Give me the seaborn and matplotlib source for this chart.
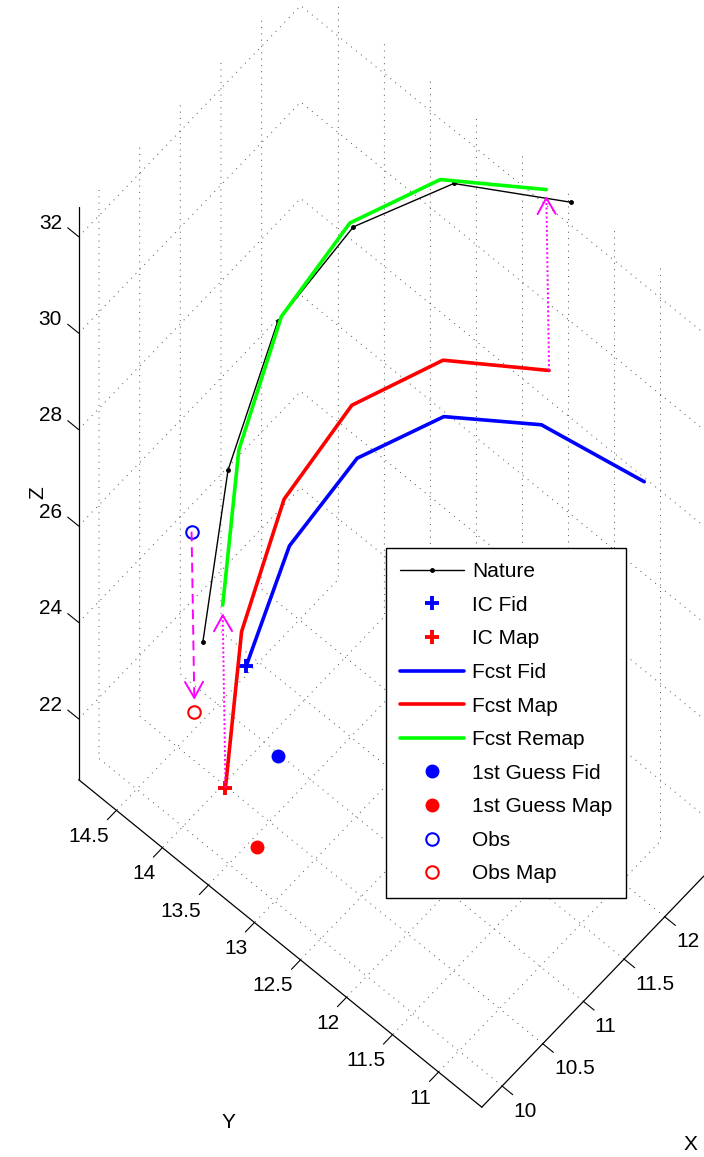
import numpy as np
import matplotlib
matplotlib.use("Agg")
import matplotlib.pyplot as plt
import seaborn as sns
from matplotlib.patches import FancyArrowPatch
from mpl_toolkits.mplot3d import proj3d

# ---- data: six time steps of each trajectory (x, y, z) ----
nature_x = [10.10, 10.50, 11.00, 11.60, 12.10, 12.46]
nature_y = [13.87, 13.95, 13.85, 13.56, 12.91, 11.955]
nature_z = [24.59, 27.33, 29.70, 31.05, 32.08, 32.54]

fcst_fid_x = [10.45, 10.95, 11.50, 12.00, 12.35, 12.45]
fcst_fid_y = [13.71, 13.68, 13.43, 12.93, 12.18, 11.15]
fcst_fid_z = [23.72, 25.39, 26.63, 27.39, 27.77, 28.01]

fcst_map_x = [10.05, 10.35, 10.85, 11.40, 11.90, 12.40]
fcst_map_y = [13.58, 13.67, 13.65, 13.40, 12.85, 12.14]
fcst_map_z = [22.11, 24.68, 26.58, 27.95, 28.86, 28.87]

fcst_remap_x = [10.05, 10.35, 10.85, 11.40, 11.90, 12.40]
fcst_remap_y = [13.61, 13.70, 13.68, 13.42, 12.88, 12.17]
fcst_remap_z = [25.85, 28.40, 30.32, 31.70, 32.56, 32.575]

guess_fid = [10.75, 13.63, 21.47]
guess_map = [10.15, 13.33, 21.09]
obs = [9.95, 13.86, 27.16]
obs_map = [9.95, 13.83, 23.46]

# displacement arrows: start -> tip
remap_arrow_start = [[10.05, 13.58, 22.11], [12.40, 12.14, 28.87]]
remap_arrow_tip = [[10.05, 13.61, 25.68], [12.40, 12.17, 32.44]]
obs_arrow_start = [9.95, 13.86, 27.16]
obs_arrow_tip = [9.95, 13.83, 23.72]

x_lim = (9.75, 12.48)
y_lim = (10.53, 14.91)
z_lim = (20.74, 32.61)
x_ticks = [10, 10.5, 11, 11.5, 12]
x_tick_labels = ["10", "10.5", "11", "11.5", "12"]
y_ticks = [11, 11.5, 12, 12.5, 13, 13.5, 14, 14.5]
y_tick_labels = ["11", "11.5", "12", "12.5", "13", "13.5", "14", "14.5"]
z_ticks = [22, 24, 26, 28, 30, 32]
z_tick_labels = ["22", "24", "26", "28", "30", "32"]

# ---- style ----
FS = 15
sns.set_theme(style="white")
plt.rcParams.update({
    "font.family": ["Liberation Sans", "DejaVu Sans"],
    "font.size": FS,
    "xtick.labelsize": FS,
    "ytick.labelsize": FS,
    "legend.fontsize": FS,
    "text.color": "black",
    "axes.labelcolor": "black",
    "xtick.color": "black",
    "ytick.color": "black",
    "axes.edgecolor": "black",
})

W, H = 704, 1157
fig = plt.figure(figsize=(W / 100, H / 100), dpi=100)
S = 1160
ax = fig.add_axes([0, 0, S / W, S / H], projection="3d", proj_type="ortho")
ax.computed_zorder = False
ax.set_xlim(x_lim)
ax.set_ylim(y_lim)
ax.set_zlim(z_lim)
ax.view_init(elev=66.88, azim=-138.54)
spans = [x_lim[1] - x_lim[0], y_lim[1] - y_lim[0], z_lim[1] - z_lim[0]]
ax.set_box_aspect(spans)
ax.grid(True)

ax.set_xticks(x_ticks, x_tick_labels, ha="left", va="center")
ax.set_yticks(y_ticks, y_tick_labels, ha="right", va="center")
ax.set_zticks(z_ticks, z_tick_labels, ha="right", va="center")

tick_factors = {"x": (0.33, 0.0), "y": (0.51, 0.0), "z": (0.0, 0.34)}
for name, axis in (("x", ax.xaxis), ("y", ax.yaxis), ("z", ax.zaxis)):
    axis.set_pane_color((1, 1, 1, 0))
    axis.pane.set_edgecolor((1, 1, 1, 0))
    axis.line.set_color("black")
    axis.line.set_linewidth(0.9)
    info = axis._axinfo
    info["grid"].update(color=(0.3, 0.3, 0.3), linewidth=0.7,
                        linestyle=(0, (1, 5.5)))
    info["axisline"]["color"] = "black"
    info["axisline"]["linewidth"] = 0.9
    info["tick"]["inward_factor"] = tick_factors[name][0]
    info["tick"]["outward_factor"] = tick_factors[name][1]
    info["tick"]["linewidth"] = {True: 0.8, False: 0.5}

# z ticks point along +y, labels offset along y only
ax.zaxis._get_tickdir = lambda *a, **k: 1
ax.zaxis._axmask = lambda: [False, True, False]

# ---- marks ----
ax.plot(nature_x, nature_y, nature_z, color="black", lw=1.0, marker=".",
        ms=5, label="Nature")
ax.plot([fcst_fid_x[0]], [fcst_fid_y[0]], [fcst_fid_z[0]], ls="none",
        marker="+", color="blue", ms=10, mew=2.8, label="IC Fid")
ax.plot([fcst_map_x[0]], [fcst_map_y[0]], [fcst_map_z[0]], ls="none",
        marker="+", color="red", ms=10, mew=2.8, label="IC Map")
ax.plot(fcst_fid_x, fcst_fid_y, fcst_fid_z, color="blue", lw=2.6,
        label="Fcst Fid")
ax.plot(fcst_map_x, fcst_map_y, fcst_map_z, color="red", lw=2.6,
        label="Fcst Map")
ax.plot(fcst_remap_x, fcst_remap_y, fcst_remap_z, color=(0, 1, 0), lw=2.6,
        label="Fcst Remap")
ax.plot([guess_fid[0]], [guess_fid[1]], [guess_fid[2]], ls="none",
        marker="o", color="blue", ms=9, label="1st Guess Fid")
ax.plot([guess_map[0]], [guess_map[1]], [guess_map[2]], ls="none",
        marker="o", color="red", ms=9, label="1st Guess Map")
ax.plot([obs[0]], [obs[1]], [obs[2]], ls="none", marker="o", mfc="none",
        mec="blue", mew=1.5, ms=9, label="Obs")
ax.plot([obs_map[0]], [obs_map[1]], [obs_map[2]], ls="none", marker="o",
        mfc="none", mec="red", mew=1.5, ms=9, label="Obs Map")


class Arrow3D(FancyArrowPatch):
    def __init__(self, start, end, **kw):
        super().__init__((0, 0), (0, 0), **kw)
        self._verts3d = np.asarray([start, end], float).T

    def do_3d_projection(self, renderer=None):
        xs, ys, zs = proj3d.proj_transform(*self._verts3d, self.axes.M)
        self.set_positions((xs[0], ys[0]), (xs[1], ys[1]))
        return np.min(zs)


def draw_arrow(start, tip, linestyle):
    start = np.asarray(start, float)
    tip = np.asarray(tip, float)
    ax.plot(*zip(start, tip), color="magenta", lw=1.4, ls=linestyle, zorder=3)
    near_tip = start + 0.98 * (tip - start)
    head = Arrow3D(near_tip, tip, arrowstyle="->,head_length=1.15,head_width=0.65",
                   mutation_scale=10, color="magenta", lw=1.4,
                   shrinkA=0, shrinkB=0, zorder=3)
    ax.add_artist(head)


for s, t in zip(remap_arrow_start, remap_arrow_tip):
    draw_arrow(s, t, (0, (1, 1.3)))
draw_arrow(obs_arrow_start, obs_arrow_tip, (0, (5, 3)))

# ---- place the box: scale and shift the projection onto the canvas ----
corners = np.array([
    [x_lim[0], y_lim[1], z_lim[0]],
    [x_lim[0], y_lim[0], z_lim[0]],
    [x_lim[1], y_lim[0], z_lim[0]],
    [x_lim[0], y_lim[1], z_lim[1]],
])
targets = np.array([[79.3, 780.0], [481.8, 1107.0], [702.5, 877.3], [79.3, 206.0]])
targets[:, 1] = H - targets[:, 1]


def to_display(pts):
    xs, ys, _ = proj3d.proj_transform(*pts.T, ax.get_proj())
    return ax.transData.transform(np.column_stack([xs, ys]))


fig.canvas.draw()
cur = to_display(corners)
k = np.sqrt(((targets - targets.mean(0)) ** 2).sum()
            / ((cur - cur.mean(0)) ** 2).sum())
ax.set_box_aspect(spans, zoom=k)
fig.canvas.draw()
cur = to_display(corners)
shift = (targets - cur).mean(0)
pos = ax.get_position()
ax.set_position([pos.x0 + shift[0] / W, pos.y0 + shift[1] / H,
                 pos.width, pos.height])
fig.canvas.draw()

# tick label offsets (in units of the axis deltas)
dpp = 48.0 / (72.0 * (ax.bbox.width + ax.bbox.height) / fig.dpi)
for axis, s in ((ax.xaxis, 0.347), (ax.yaxis, 0.404), (ax.zaxis, 0.52)):
    axis.set_tick_params(pad=s / dpp - 8.0)

leg = ax.legend(loc="upper left", bbox_to_anchor=(386 / W, 1 - 548 / H),
                bbox_transform=fig.transFigure, frameon=True, fancybox=False,
                edgecolor="black", framealpha=1, borderaxespad=0,
                borderpad=0.68, labelspacing=0.70, handlelength=3.07,
                handletextpad=0.38, numpoints=1)
leg.get_frame().set_linewidth(1.0)

fig.text(38 / W, 1 - 493 / H, "Z", rotation=90, ha="center", va="center",
         fontsize=FS)
fig.text(228 / W, 1 - 1122 / H, "Y", ha="center", va="center", fontsize=FS)
fig.text(690 / W, 1 - 1145 / H, "X", ha="center", va="center", fontsize=FS)

fig.savefig("out.png", dpi=100)
